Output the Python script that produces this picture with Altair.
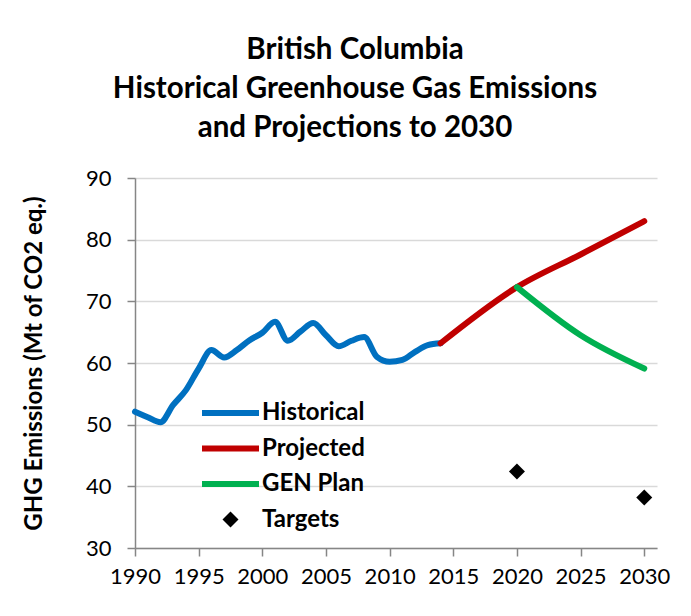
import altair as alt
import pandas as pd

series_order = ["Historical", "Projected", "GEN Plan", "Targets"]
series_colors = ["#0070C0", "#C00000", "#00B050", "#000000"]

hist_years = list(range(1990, 2015))
hist_values = [52.1, 51.2, 50.4, 53.2, 55.6, 59.1, 62.1, 60.9, 62.1, 63.7,
               64.9, 66.7, 63.6, 65.1, 66.5, 64.5, 62.7, 63.6, 64.2, 61.0,
               60.2, 60.5, 61.8, 62.9, 63.2]

proj_years = [2014, 2020, 2025, 2030]
proj_values = [63.2, 72.3, 77.6, 83.0]

gen_years = [2020, 2025, 2030]
gen_values = [72.3, 64.5, 59.1]

target_years = [2020, 2030]
target_values = [42.4, 38.2]

x_ticks = [1990, 1995, 2000, 2005, 2010, 2015, 2020, 2025, 2030]
y_ticks = [30, 40, 50, 60, 70, 80, 90]

title_lines = ["British Columbia", "Historical Greenhouse Gas Emissions",
               "and Projections to 2030"]
y_title = "GHG Emissions (Mt of CO2 eq.)"

rows = []
for yr, v in zip(hist_years, hist_values):
    rows.append({"year": yr, "value": v, "series": "Historical"})
for yr, v in zip(proj_years, proj_values):
    rows.append({"year": yr, "value": v, "series": "Projected"})
for yr, v in zip(gen_years, gen_values):
    rows.append({"year": yr, "value": v, "series": "GEN Plan"})
lines_df = pd.DataFrame(rows)
targets_df = pd.DataFrame({"year": target_years, "value": target_values,
                           "series": ["Targets"] * len(target_years)})

FONT = "Lato"
AXIS_COLOR = "#868686"

legend = alt.Legend(title=None, orient="none", legendX=64, legendY=222, clipHeight=26)

x_enc = alt.X("year:Q", scale=alt.Scale(domain=[1990, 2031], nice=False, zero=False),
              axis=alt.Axis(values=x_ticks, format="d", grid=False, title=None,
                            labelPadding=10, labelFlush=False))
y_enc = alt.Y("value:Q", scale=alt.Scale(domain=[30, 90], nice=False, zero=False),
              axis=alt.Axis(values=y_ticks, title=y_title, grid=True,
                            labelPadding=16, titlePadding=39))

stroke_scale = alt.Scale(domain=series_order, range=series_colors)

lines = alt.Chart(lines_df).mark_line(
    strokeWidth=6, strokeCap="round", strokeJoin="round", interpolate="monotone"
).encode(
    x=x_enc, y=y_enc,
    stroke=alt.Stroke("series:N", scale=stroke_scale, legend=legend),
    detail="series:N",
)

points = alt.Chart(targets_df).mark_point(filled=True, opacity=1).encode(
    x=x_enc, y=y_enc,
    fill=alt.Fill("series:N", scale=alt.Scale(domain=series_order, range=series_colors), legend=legend),
    stroke=alt.Stroke("series:N", scale=stroke_scale, legend=legend),
    shape=alt.Shape("series:N", scale=alt.Scale(domain=series_order,
                    range=["stroke", "stroke", "stroke", "diamond"]), legend=legend),
    size=alt.Size("series:N", scale=alt.Scale(type="ordinal", domain=series_order,
                  range=[3249, 3249, 3249, 256]), legend=legend),
    strokeWidth=alt.StrokeWidth("series:N", scale=alt.Scale(type="ordinal", domain=series_order,
                                range=[6, 6, 6, 0]), legend=legend),
)

chart = alt.layer(lines, points).properties(
    width=522, height=370,
    background="white",
    autosize=alt.AutoSizeParams(type="none"),
    padding={"left": 135, "top": 178, "right": 34, "bottom": 68},
    title=alt.TitleParams(text=title_lines, font=FONT, fontSize=29.5, fontWeight="bold",
                          color="#000000", anchor="middle", frame="group",
                          lineHeight=39, offset=24, dx=-41),
).configure_view(stroke=None).configure_axis(
    labelFont=FONT, labelFontSize=22, labelColor="#000000",
    titleFont=FONT, titleFontSize=24, titleFontWeight="bold", titleColor="#000000",
    domainColor=AXIS_COLOR, tickColor=AXIS_COLOR, tickSize=8,
    gridColor="#D9D9D9", gridWidth=1.5, domainWidth=1.5, tickWidth=1.5,
).configure_legend(
    labelFont=FONT, labelFontSize=24, labelFontWeight="bold", labelColor="#000000",
    padding=0, rowPadding=9.5, labelOffset=0, symbolStrokeWidth=6,
)

chart.save("out.html", embed_options={"renderer": "svg", "actions": False})
